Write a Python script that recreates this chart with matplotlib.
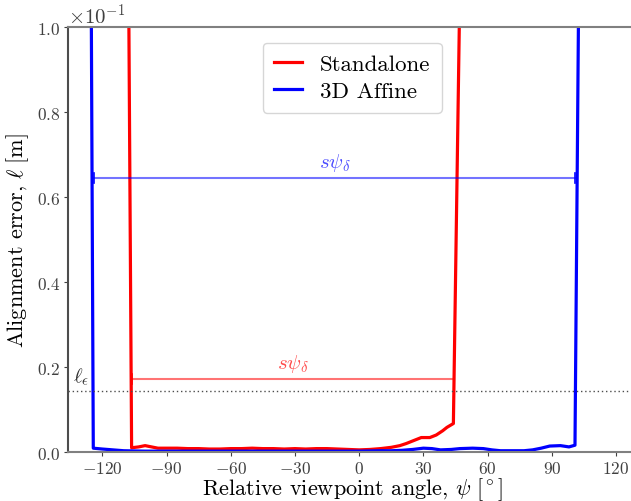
import numpy as np
import matplotlib
matplotlib.use("Agg")
import matplotlib.pyplot as plt

plt.rcParams["font.family"] = "serif"
plt.rcParams["font.serif"] = ["cmr10"]
plt.rcParams["mathtext.fontset"] = "cm"
plt.rcParams["axes.formatter.use_mathtext"] = True

# alignment error per viewpoint angle [deg] -> error [m]
standalone_angle = [-108.2, -106.3, -103, -100, -97, -94, -90, -85, -80, -75, -70, -65,
                    -60, -55, -50, -45, -40, -35, -30, -25, -20, -15, -10, -5, 0, 5,
                    10, 15, 19, 22, 25, 29, 33, 36, 39, 41, 44, 47.2]
standalone_err = [0.15, 0.0010, 0.0012, 0.0015, 0.0012, 0.0009, 0.0009, 0.0009, 0.0008,
                  0.0008, 0.0007, 0.0007, 0.0008, 0.0008, 0.0009, 0.0008, 0.0008, 0.0007,
                  0.0008, 0.0007, 0.0008, 0.0008, 0.0007, 0.0006, 0.0005, 0.0006, 0.0008,
                  0.0011, 0.0015, 0.0020, 0.0026, 0.0034, 0.0034, 0.0040, 0.0050, 0.0058,
                  0.0067, 0.115]

affine_angle = [-126, -124.2, -120, -115, -110, -100, -90, -80, -70, -60, -50, -40, -30,
                -20, -10, 0, 10, 15, 20, 25, 30, 34, 38, 43, 47, 53, 58, 62, 66, 72, 77,
                81, 85, 89, 94, 98, 100.8, 103.2]
affine_err = [0.2, 0.0009, 0.0007, 0.0005, 0.0003, 0.0002, 0.0002, 0.0002, 0.0002, 0.0002,
              0.0002, 0.0002, 0.0002, 0.0002, 0.0002, 0.0002, 0.0003, 0.0003, 0.0004, 0.0006,
              0.0009, 0.0008, 0.0005, 0.0006, 0.0008, 0.0009, 0.0008, 0.0005, 0.0003, 0.0003,
              0.0003, 0.0005, 0.0009, 0.0014, 0.0015, 0.0012, 0.0016, 0.15]

ell_eps = 0.01435

# valid viewpoint ranges (s psi_delta) and the height they are drawn at
standalone_range = [-106.0, 44.3]
affine_range = [-123.7, 100.8]
standalone_range_y = 0.0172
affine_range_y = 0.0645

fig = plt.figure(figsize=(6.31, 5.02), dpi=100)
# axes run a little past the right edge of the figure
ax = fig.add_axes([0.1078, 0.0976, 0.9025, 0.8466])

ax.plot(standalone_angle, standalone_err, color="red", lw=2.3, label="Standalone")
ax.plot(affine_angle, affine_err, color="blue", lw=2.3, label="3D Affine")

ax.axhline(ell_eps, color="0.3", ls=(0, (1, 2)), lw=1)
ax.text(-133.5, ell_eps + 0.0012, r"$\ell_\epsilon$", fontsize=15, color="0.2",
        ha="left", va="bottom")

for rng, y, c in [(standalone_range, standalone_range_y, "red"),
                  (affine_range, affine_range_y, "blue")]:
    ax.plot(rng, [y, y], color=c, lw=1.5, alpha=0.55)
    ax.plot([rng[0], rng[0]], [y - 0.0012, y + 0.0012], color=c, lw=1.2)
    ax.plot([rng[1], rng[1]], [y - 0.0012, y + 0.0012], color=c, lw=1.2)
    ax.text(np.mean(rng), y + 0.0012, r"$s\psi_\delta$", color=c, alpha=0.7,
            fontsize=15, ha="center", va="bottom")

ax.set_xlim(-136, 130)
ax.set_ylim(0, 0.1)
ax.set_xticks(np.arange(-120, 121, 30))
ax.set_yticks(np.arange(0, 0.101, 0.02))
ax.ticklabel_format(axis="y", style="sci", scilimits=(0, 0))
ax.tick_params(labelsize=12.5, colors="0.25", length=3, pad=2.5)
ax.yaxis.get_offset_text().set_fontsize(15)

ax.set_xlabel(r"Relative viewpoint angle, $\psi\ [{}^\circ]$", fontsize=16, labelpad=0)
ax.set_ylabel(r"Alignment error, $\ell\;$[m]", fontsize=16, labelpad=4)

ax.spines["right"].set_visible(False)
ax.spines["left"].set_color("0.3")
ax.spines["top"].set_color("0.5")
ax.spines["bottom"].set_color("0.5")
for s in ax.spines.values():
    s.set_linewidth(1.5)

ax.legend(loc="upper center", bbox_to_anchor=(0.499, 0.99), fontsize=16.5,
          handlelength=1.2, borderpad=0.5, labelspacing=0.3)

fig.savefig("out.png", dpi=100)
